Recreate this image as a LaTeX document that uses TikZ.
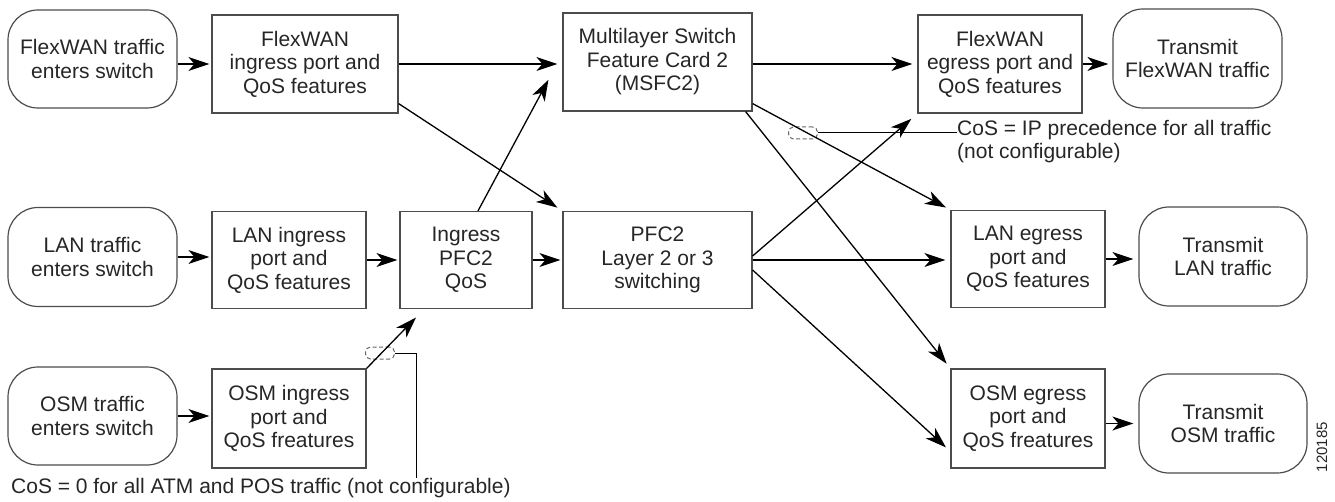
\documentclass[tikz,border=0pt]{standalone}
\usepackage{fontspec}
\setmainfont{Liberation Sans}
\usetikzlibrary{positioning,arrows.meta,shapes.geometric}

\begin{document}
\begin{tikzpicture}[x=1pt,y=-1pt,
   font=\fontsize{21}{23.5}\selectfont,
   every node/.style={align=center,inner sep=0pt,text=black!85},
   box/.style={draw=black!70,line width=1.2pt,rectangle},
   term/.style={box,rounded corners=30pt},
   arr/.style={-{Stealth[length=21pt,width=14pt,inset=6pt]},line width=1.3pt,shorten >=2pt},
   cosmark/.style={draw=black!60,dash pattern=on 4pt off 2.5pt,rectangle,rounded corners=5pt,
      minimum width=29pt,minimum height=12pt,line width=1pt}]
   \useasboundingbox (0,0) rectangle (1335,502);
   % traffic in
   \node[term,minimum width=169pt,minimum height=98pt] (fwin) at (92.5,59) {FlexWAN traffic\\enters switch};
   \node[term,minimum width=169pt,minimum height=99pt] (lanin) at (92.5,257) {LAN traffic\\enters switch};
   \node[term,minimum width=169pt,minimum height=98pt] (osmin) at (92.5,416) {OSM traffic\\enters switch};
   % ingress
   \node[box,minimum width=186pt,minimum height=98pt] (fwing) at (305,64) {FlexWAN\\ingress port and\\QoS features};
   \node[box,minimum width=154pt,minimum height=97pt] (laning) at (289,260) {LAN ingress\\port and\\QoS features};
   \node[box,minimum width=154pt,minimum height=99pt] (osming) at (289,418.5) {OSM ingress\\port and\\QoS freatures};
   \node[box,minimum width=132pt,minimum height=97pt] (ingpfc) at (466,260) {Ingress\\PFC2\\QoS};
   % switching
   \node[box,minimum width=189pt,minimum height=98pt] (msfc) at (657.5,62) {Multilayer Switch\\Feature Card 2\\(MSFC2)};
   \node[box,minimum width=189pt,minimum height=97pt] (pfc2) at (657.5,260) {PFC2\\Layer 2 or 3\\switching};
   % egress
   \node[box,minimum width=164pt,minimum height=98pt] (fwegr) at (1000,64) {FlexWAN\\egress port and\\QoS features};
   \node[box,minimum width=154pt,minimum height=97pt] (lanegr) at (1028,259) {LAN egress\\port and\\QoS features};
   \node[box,minimum width=154pt,minimum height=99pt] (osmegr) at (1028,418.5) {OSM egress\\port and\\QoS freatures};
   % traffic out
   \node[term,minimum width=169pt,minimum height=99pt] (fwtx) at (1197.5,58.5) {Transmit\\FlexWAN traffic};
   \node[term,minimum width=168pt,minimum height=99pt] (lantx) at (1223,256.5) {Transmit\\LAN traffic};
   \node[term,minimum width=168pt,minimum height=99pt] (osmtx) at (1223,423.5) {Transmit\\OSM traffic};
   % CoS notes
   \node[cosmark] (ipmark) at (803,133) {};
   \node[anchor=north west,align=left] (cosip) at (957,120) {CoS = IP precedence for all traffic\\(not configurable)};
   \node[cosmark] (atmmark) at (380,353) {};
   \node[anchor=west] (cos0) at (11,488) {CoS = 0 for all ATM and POS traffic (not configurable)};
   \coordinate (atmbend) at (416,353);
   \node[rotate=90,font=\fontsize{15}{15}\selectfont] (figno) at (1322,447) {120185};
   \path%
     (fwin.east |- fwing.west) edge [arr] (fwing.west) %flexwan in
     (lanin.east) edge [arr] (lanin.east -| laning.west) %lan in
     (osmin.east) edge [arr] (osmin.east -| osming.west) %osm in
     (laning.east) edge [arr] (ingpfc.west) %lan to pfc qos
     (osming.north east) edge [arr] ([xshift=18pt,yshift=-7pt]ingpfc.south west) %osm to pfc qos
     (ingpfc.east) edge [arr] (pfc2.west) %pfc qos to pfc2
     ([xshift=12pt]ingpfc.north) edge [arr] ([xshift=-13pt,yshift=-16pt]msfc.west) %pfc qos to msfc
     (fwing.east) edge [arr, shorten >=5pt] (fwing.east -| msfc.west) %flexwan to msfc
     ([yshift=10pt]fwing.south east) edge [arr, shorten >=6pt] (pfc2.north west) %flexwan to pfc2
     (msfc.east |- fwegr.west) edge [arr, shorten >=5pt] (fwegr.west) %msfc to flexwan
     ([yshift=8pt]msfc.south east) edge [arr, shorten >=5pt] (lanegr.north west) %msfc to lan
     ([xshift=-7pt]msfc.south east) edge [arr, shorten >=6pt] (osmegr.north west) %msfc to osm
     ([yshift=4pt]pfc2.east) edge [arr, shorten >=8pt] (fwegr.south west) %pfc2 to flexwan
     (pfc2.east) edge [arr, shorten >=5pt] (pfc2.east -| lanegr.west) %pfc2 to lan
     ([yshift=-10pt]pfc2.east) edge [arr, shorten >=6pt] ([yshift=-33pt]osmegr.west) %pfc2 to osm
     (fwegr.east) edge [arr, shorten >=4pt] (fwegr.east -| fwtx.west) %flexwan out
     (lanegr.east) edge [arr, shorten >=5pt] (lanegr.east -| lantx.west) %lan out
     (osmtx.west -| osmegr.east) edge [arr, shorten >=5pt] (osmtx.west); %osm out
   \draw[line width=1pt] (ipmark.east) -- (ipmark.east -| cosip.west);
   \draw[line width=1pt] (atmmark.east) -- (atmbend) -- (atmbend |- cos0.north);
\end{tikzpicture}
\end{document}
